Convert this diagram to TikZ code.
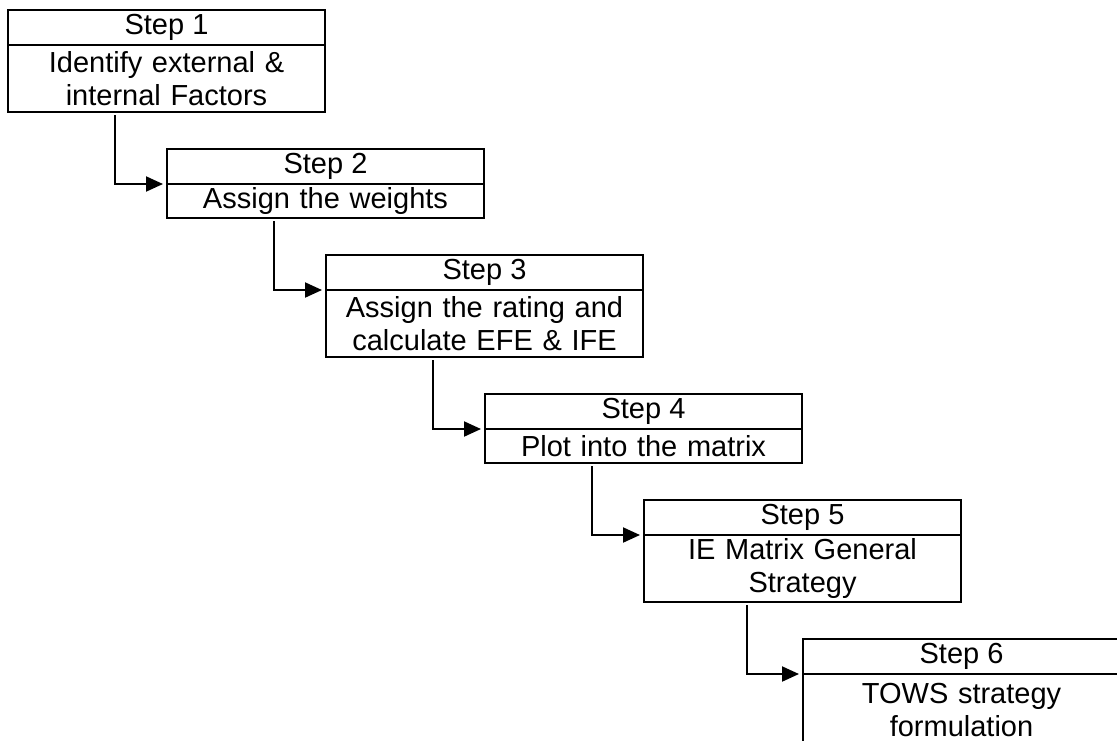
\documentclass[tikz,border=0pt]{standalone}
\usepackage{fontspec}
\setmainfont{Liberation Sans}
\usetikzlibrary{arrows.meta, positioning}

\begin{document}
\begin{tikzpicture} [x=0.5pt, y=-0.5pt,
        head/.style = {draw, line width=1pt, outer sep=0pt, inner sep=0pt,
                       minimum width=158.5pt, minimum height=17.5pt,
                       font=\fontsize{14.5}{16.5}\selectfont},
        body/.style = {head, minimum height=17pt, text width=154pt, align=center},
        tall/.style = {minimum height=33.5pt},
        flow/.style = {-{Triangle[length=8.5pt, width=7.5pt]}, line width=1pt,
                       shorten >=2pt, shorten <=1.5pt}]
        \useasboundingbox (0,0) rectangle (1117,740);
        \clip (0,0) rectangle (1117,740);

        \node (s1h) [head, anchor=north west] at (8,10) {Step 1};
        \node (s1b) [body, tall, below=0pt of s1h] {Identify external \&\\ internal Factors};
        \node (s2h) [head, below right=18.5pt and 79.5pt of s1b.south west] {Step 2};
        \node (s2b) [body, below=0pt of s2h] {Assign the weights};
        \node (s3h) [head, below right=18.5pt and 79.5pt of s2b.south west] {Step 3};
        \node (s3b) [body, tall, below=0pt of s3h] {Assign the rating and\\ calculate EFE \& IFE};
        \node (s4h) [head, below right=18.5pt and 79.5pt of s3b.south west] {Step 4};
        \node (s4b) [body, below=0pt of s4h] {Plot into the matrix};
        \node (s5h) [head, below right=18.5pt and 79.5pt of s4b.south west] {Step 5};
        \node (s5b) [body, tall, below=0pt of s5h] {IE Matrix General\\ Strategy};
        \node (s6h) [head, below right=18.5pt and 79.5pt of s5b.south west] {Step 6};
        \node (s6b) [body, tall, minimum height=36pt, below=0pt of s6h] {TOWS strategy\\ formulation};

        \draw [flow] ([xshift=53.5pt]s1b.south west) |- (s2b.north west);
        \draw [flow] ([xshift=53.5pt]s2b.south west) |- (s3b.north west);
        \draw [flow] ([xshift=53.5pt]s3b.south west) |- (s4b.north west);
        \draw [flow] ([xshift=53.5pt]s4b.south west) |- (s5b.north west);
        \draw [flow] ([xshift=51.5pt]s5b.south west) |- (s6b.north west);
\end{tikzpicture}
\end{document}
